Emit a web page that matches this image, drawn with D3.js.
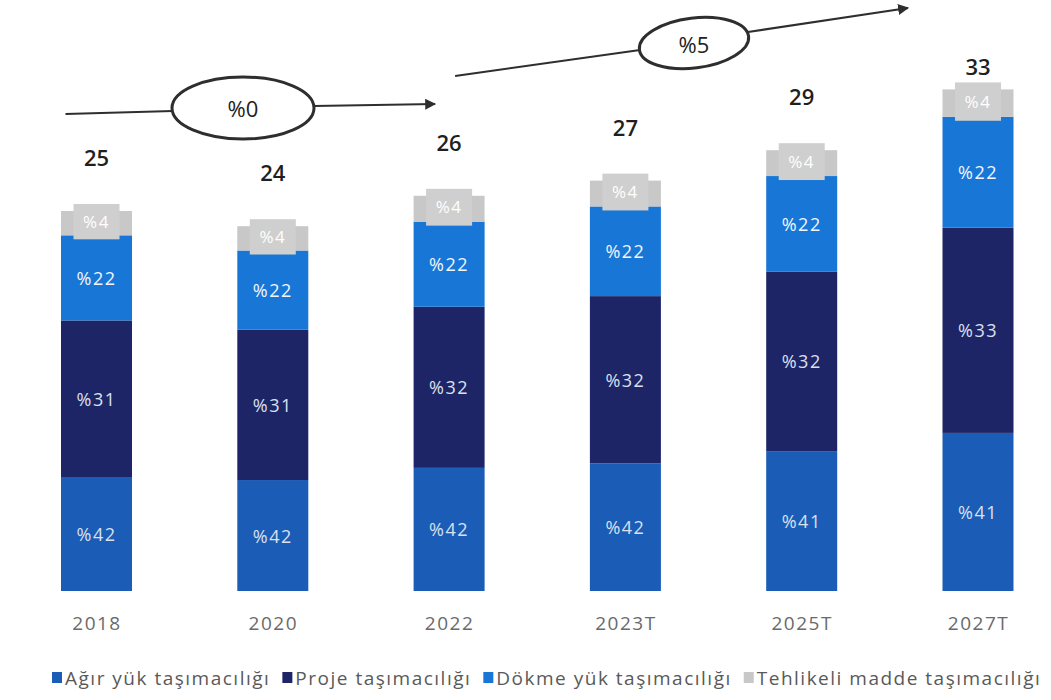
<!DOCTYPE html>
<html>
<head>
<meta charset="utf-8">
<script src="https://cdn.jsdelivr.net/npm/d3@7"></script>
<style>
  html, body { margin: 0; padding: 0; background: #ffffff; }
  svg { display: block; font-family: "Open Sans", "Noto Sans", sans-serif; }
</style>
</head>
<body>
<svg id="chart" width="1051" height="700"></svg>
<script>
// ---------------- DATA ----------------
const categories = ["2018", "2020", "2022", "2023T", "2025T", "2027T"];
const totals = [25, 24, 26, 27, 29, 33];
const seriesNames = ["Ağır yük taşımacılığı", "Proje taşımacılığı", "Dökme yük taşımacılığı", "Tehlikeli madde taşımacılığı"];
// segment sizes as drawn (bottom to top), in the chart's units
const agirYuk    = [7.5, 7.3, 8.1, 8.4, 9.2, 10.4];
const proje      = [10.3, 9.9, 10.6, 11.0, 11.8, 13.5];
const dokmeYuk   = [5.6, 5.2, 5.6, 5.9, 6.3, 7.3];
const tehlikeli  = [1.6, 1.6, 1.7, 1.7, 1.7, 1.8];
// printed share labels inside the segments
const agirYukLabels   = ["%42", "%42", "%42", "%42", "%41", "%41"];
const projeLabels     = ["%31", "%31", "%32", "%32", "%32", "%33"];
const dokmeYukLabels  = ["%22", "%22", "%22", "%22", "%22", "%22"];
const tehlikeliLabels = ["%4", "%4", "%4", "%4", "%4", "%4"];
const growthLabels = ["%0", "%5"];

// ---------------- STYLE / LAYOUT ----------------
const colors = ["#1a5cb6", "#1e2566", "#1877d6", "#c8c8c8"];
const barWidth = 71;
const baseline = 591;
const pxPerUnit = 15.2;

const svg = d3.select("#chart");

const x = d3.scalePoint().domain(categories).range([96.5, 978]);
const yMax = 38;
const y = d3.scaleLinear().domain([0, yMax]).range([baseline, baseline - yMax * pxPerUnit]);

const seriesValues = [agirYuk, proje, dokmeYuk, tehlikeli];
const seriesLabels = [agirYukLabels, projeLabels, dokmeYukLabels, tehlikeliLabels];

const rows = categories.map((c, i) => {
  const r = { cat: c };
  seriesNames.forEach((s, k) => r[s] = seriesValues[k][i]);
  return r;
});
const stack = d3.stack().keys(seriesNames)(rows);

const gBars = svg.append("g");
stack.forEach((layer, k) => {
  const g = gBars.append("g");
  g.selectAll("rect")
    .data(layer)
    .join("rect")
    .attr("x", d => x(d.data.cat) - barWidth / 2)
    .attr("y", d => y(d[1]))
    .attr("width", barWidth)
    .attr("height", d => y(d[0]) - y(d[1]))
    .attr("fill", colors[k]);
});

// segment labels
stack.forEach((layer, k) => {
  const g = svg.append("g");
  if (k === 3) {
    // label box for the thin grey segment
    g.selectAll("rect")
      .data(layer)
      .join("rect")
      .attr("x", d => x(d.data.cat) - 23)
      .attr("y", d => y(d[1]) - 7)
      .attr("width", 46)
      .attr("height", d => y(d[0]) - y(d[1]) + 11)
      .attr("fill", "#cfcfcf");
  }
  g.selectAll("text")
    .data(layer)
    .join("text")
    .attr("x", d => x(d.data.cat))
    .attr("y", (d, i) => (y(d[0]) + y(d[1])) / 2 + (k === 3 ? -2 : 0))
    .attr("text-anchor", "middle")
    .attr("dominant-baseline", "central")
    .attr("font-size", k === 3 ? 17 : 18)
    .attr("letter-spacing", "1.5px")
    .attr("fill", k === 2 ? "#f2f6fc" : (k === 3 ? "#ffffff" : "#d9e0ef"))
    .text((d, i) => seriesLabels[k][i]);
});

// totals (kept below the annotation band)
svg.append("g").selectAll("text")
  .data(categories)
  .join("text")
  .attr("x", c => x(c))
  .attr("y", (c, i) => Math.max(y(totals[i]) - 54, 66))
  .attr("text-anchor", "middle")
  .attr("dominant-baseline", "central")
  .attr("font-size", 22)
  .attr("font-weight", 600)
  .attr("fill", "#1f1f1f")
  .text((c, i) => totals[i]);

// x axis labels
const xAxis = d3.axisBottom(x).tickSize(0).tickPadding(0);
const gx = svg.append("g").attr("transform", `translate(0,${baseline + 24})`).call(xAxis);
gx.select(".domain").remove();
gx.selectAll("text")
  .attr("font-family", "'Open Sans', sans-serif")
  .attr("font-size", 19)
  .attr("letter-spacing", "1.5px")
  .attr("fill", "#6a6a6a")
  .attr("dy", "0.35em")
  .attr("y", 8);

// growth annotations
const ink = "#2e2e2e";
const defs = svg.append("defs");
defs.append("marker")
  .attr("id", "arrowhead")
  .attr("viewBox", "0 0 10 10")
  .attr("refX", 9).attr("refY", 5)
  .attr("markerWidth", 5).attr("markerHeight", 5)
  .attr("markerUnits", "strokeWidth")
  .attr("orient", "auto")
  .append("path").attr("d", "M0,0 L10,5 L0,10 Z").attr("fill", ink);

const ann = svg.append("g");
// arrow 1 : 2018 -> 2022
ann.append("line").attr("x1", x("2018") - 31).attr("y1", 114).attr("x2", 173).attr("y2", 111)
  .attr("stroke", ink).attr("stroke-width", 2);
ann.append("ellipse").attr("cx", 243).attr("cy", 108).attr("rx", 71).attr("ry", 31)
  .attr("fill", "none").attr("stroke", ink).attr("stroke-width", 3);
ann.append("line").attr("x1", 314).attr("y1", 106).attr("x2", x("2022") - 14).attr("y2", 104)
  .attr("stroke", ink).attr("stroke-width", 2.2).attr("marker-end", "url(#arrowhead)");
ann.append("text").attr("x", 243).attr("y", 108).attr("text-anchor", "middle")
  .attr("dominant-baseline", "central").attr("font-size", 22).attr("fill", "#222").text(growthLabels[0]);

// arrow 2 : 2022 -> 2027T
ann.append("line").attr("x1", x("2022") + 6).attr("y1", 76).attr("x2", 640).attr("y2", 50)
  .attr("stroke", ink).attr("stroke-width", 2);
ann.append("ellipse").attr("cx", 0).attr("cy", 0).attr("rx", 55).attr("ry", 25)
  .attr("transform", "translate(694,43) rotate(-7)")
  .attr("fill", "none").attr("stroke", ink).attr("stroke-width", 3);
ann.append("line").attr("x1", 748).attr("y1", 32).attr("x2", x("2027T") - 70).attr("y2", 8)
  .attr("stroke", ink).attr("stroke-width", 2.2).attr("marker-end", "url(#arrowhead)");
ann.append("text").attr("x", 694).attr("y", 44).attr("text-anchor", "middle")
  .attr("dominant-baseline", "central").attr("font-size", 22).attr("fill", "#222").text(growthLabels[1]);

// legend
const legend = svg.append("g").attr("transform", "translate(52,678)");
let lx = 0;
seriesNames.forEach((s, k) => {
  const item = legend.append("g").attr("transform", `translate(${lx},0)`);
  item.append("rect").attr("x", 0).attr("y", -6).attr("width", 10).attr("height", 11).attr("fill", colors[k]);
  const t = item.append("text").attr("x", 13).attr("y", 0).attr("dominant-baseline", "central")
    .attr("font-size", 19).attr("letter-spacing", "1.5px").attr("fill", "#595959").text(s);
  lx += 13 + t.node().getComputedTextLength() + 12;
});
</script>
</body>
</html>
